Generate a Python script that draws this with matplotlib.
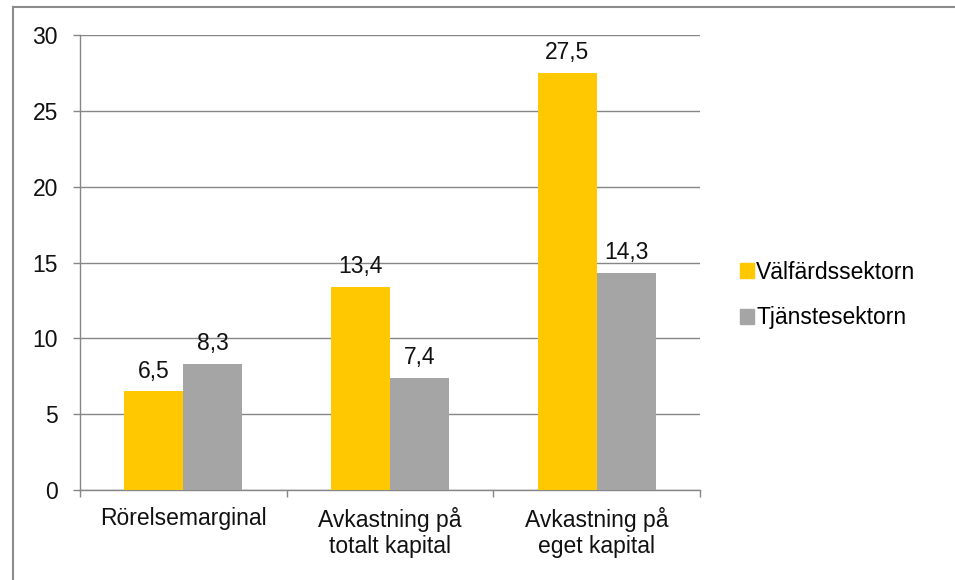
import matplotlib
matplotlib.use("Agg")
import matplotlib.pyplot as plt
import numpy as np
from matplotlib.patches import Rectangle
from matplotlib.lines import Line2D

categories = ["Rörelsemarginal", "Avkastning på\ntotalt kapital", "Avkastning på\neget kapital"]
series_names = ["Välfärdssektorn", "Tjänstesektorn"]
valfard = [6.5, 13.4, 27.5]
tjanste = [8.3, 7.4, 14.3]
colors = ["#FFC800", "#A5A5A5"]
yticks = [0, 5, 10, 15, 20, 25, 30]

FS = 16.5
plt.rcParams['font.family'] = ['Liberation Sans', 'DejaVu Sans']
fig = plt.figure(figsize=(9.55, 5.8), dpi=100)
ax = fig.add_axes([80/955, 90/580, 620/955, 455/580])

x = np.arange(len(categories))
w = 0.285
b1 = ax.bar(x - w/2, valfard, w, color=colors[0], label=series_names[0], zorder=3)
b2 = ax.bar(x + w/2, tjanste, w, color=colors[1], label=series_names[1], zorder=3)

def fmt(v):
    return f"{v:.1f}".replace(".", ",")

for bars, vals in ((b1, valfard), (b2, tjanste)):
    for r, v in zip(bars, vals):
        ax.annotate(fmt(v), (r.get_x() + r.get_width()/2, v), xytext=(0, 10),
                    textcoords="offset points", ha="center", va="baseline",
                    fontsize=FS, color="#111111", zorder=5)

ax.set_xlim(-0.5, 2.5)
ax.set_ylim(0, 30)
ax.set_yticks(yticks)
ax.set_yticklabels([str(t) for t in yticks], fontsize=FS, color="#111111")
ax.set_xticks(x)
ax.set_xticklabels(categories, fontsize=FS, linespacing=1.2, color="#111111")
ax.set_xticks([-0.5, 0.5, 1.5, 2.5], minor=True)
ax.tick_params(axis="x", which="major", length=0, pad=12)
ax.tick_params(axis="x", which="minor", length=5, color="#868686", width=1)
ax.tick_params(axis="y", length=5, color="#868686", width=1, pad=11)
ax.yaxis.grid(True, color="#868686", linewidth=1, zorder=0)
for s in ["top", "right"]:
    ax.spines[s].set_visible(False)
for s in ["left", "bottom"]:
    ax.spines[s].set_color("#868686")
    ax.spines[s].set_linewidth(1)

handles = [Rectangle((0, 0), 1, 1, color=c) for c in colors]
fig.legend(handles, series_names, loc="center left", bbox_to_anchor=(740/955, 1 - 295/580),
           frameon=False, fontsize=FS, handlelength=0.6, handleheight=0.6,
           handletextpad=0.1, labelspacing=1.0, borderpad=0, borderaxespad=0)

fig.add_artist(Line2D([13/955, 1.0], [1 - 7/580, 1 - 7/580], transform=fig.transFigure,
                      color="#8C8C8C", linewidth=1.5))
fig.add_artist(Line2D([13/955, 13/955], [0.0, 1 - 7/580], transform=fig.transFigure,
                      color="#8C8C8C", linewidth=1.5))

fig.savefig("out.png", dpi=100)
